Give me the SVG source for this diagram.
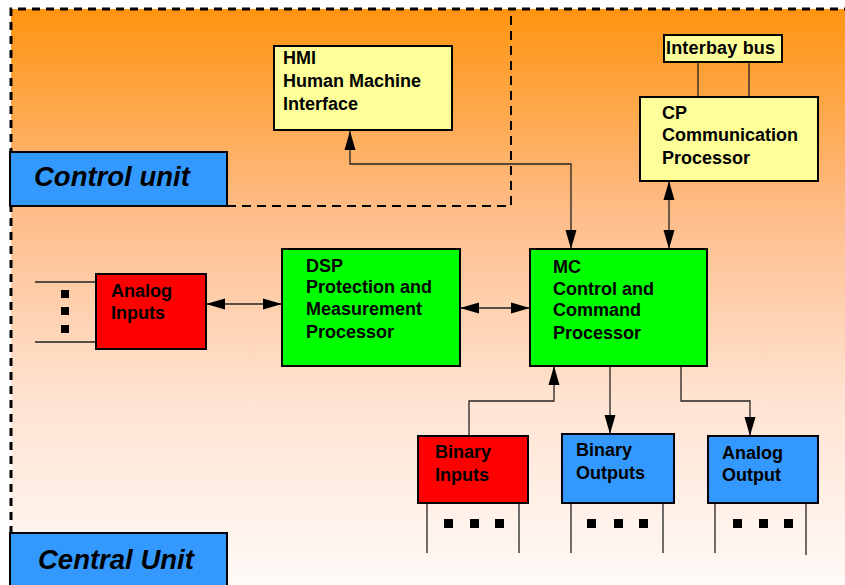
<svg xmlns="http://www.w3.org/2000/svg" width="845" height="585" viewBox="0 0 845 585">
<defs>
<linearGradient id="bg" x1="0" y1="0" x2="0" y2="1">
<stop offset="0" stop-color="#FF9410"/>
<stop offset="0.35" stop-color="#FEBD8A"/>
<stop offset="0.65" stop-color="#FFE2D0"/>
<stop offset="1" stop-color="#FFFCFA"/>
</linearGradient>
<marker id="ah" viewBox="0 0 10 10" refX="10" refY="5" markerWidth="19" markerHeight="19" markerUnits="userSpaceOnUse" orient="auto-start-reverse">
<path d="M0,2.1 L10,5 L0,7.9 z" fill="#000"/>
</marker>
</defs>
<style>
.box{stroke:#000;stroke-width:2}
.yel{fill:#FFFF99}
.red{fill:#FF0000}
.grn{fill:#00FF00}
.blu{fill:#3399FF}
.t{font-family:"Liberation Sans",Arial,sans-serif;font-weight:bold;font-size:18px;fill:#000}
.big{font-family:"Liberation Sans",Arial,sans-serif;font-weight:bold;font-style:italic;font-size:27.5px;fill:#000}
.ln{fill:none;stroke:#222;stroke-width:1.3}
.dot{fill:#000}
</style>
<rect x="0" y="0" width="845" height="585" fill="#fff"/>
<rect x="11" y="9" width="850" height="590" fill="url(#bg)"/>
<path d="M11,590 L11,9 L850,9" fill="none" stroke="#000" stroke-width="3" stroke-dasharray="8,6"/>
<path d="M227,206 L511,206 L511,11" fill="none" stroke="#000" stroke-width="2" stroke-dasharray="9,6"/>

<g id="connectors">
<path class="ln" d="M571,249 L571,164 L350,164 L350,131" marker-start="url(#ah)" marker-end="url(#ah)"/>
<path class="ln" d="M669,181 L669,249" marker-start="url(#ah)" marker-end="url(#ah)"/>
<path class="ln" d="M698,62 L698,97"/>
<path class="ln" d="M749,62 L749,97"/>
<path class="ln" d="M206,304 L282,304" marker-start="url(#ah)" marker-end="url(#ah)"/>
<path class="ln" d="M460,308 L530,308" marker-start="url(#ah)" marker-end="url(#ah)"/>
<path class="ln" d="M35,282 L96,282 M35,342 L96,342"/>
<path class="ln" d="M469,436 L469,401 L554,401 L554,366" marker-end="url(#ah)"/>
<path class="ln" d="M610,366 L610,434" marker-end="url(#ah)"/>
<path class="ln" d="M681,366 L681,401 L750,401 L750,436" marker-end="url(#ah)"/>
<path class="ln" d="M427,503 L427,553 M519,503 L519,553 M571,503 L571,553 M663,503 L663,553 M715,503 L715,553 M806,503 L806,555"/>
</g>

<g id="control-unit">
<rect class="box blu" x="10" y="152" width="217" height="54"/>
<text class="big" x="34" y="186">Control unit</text>
</g>
<g id="central-unit">
<rect class="box blu" x="10" y="533" width="217" height="60"/>
<text class="big" x="38" y="569">Central Unit</text>
</g>

<g id="hmi">
<rect class="box yel" x="274" y="46" width="178" height="84"/>
<text class="t" x="283" y="64">HMI</text>
<text class="t" x="283" y="87">Human Machine</text>
<text class="t" x="283" y="110">Interface</text>
</g>

<g id="interbay">
<rect class="box yel" x="664" y="35" width="118" height="27"/>
<text class="t" x="666" y="54" textLength="109">Interbay bus</text>
</g>

<g id="cp">
<rect class="box yel" x="640" y="97" width="178" height="84"/>
<text class="t" x="662" y="119">CP</text>
<text class="t" x="662" y="141">Communication</text>
<text class="t" x="662" y="164">Processor</text>
</g>

<g id="analog-inputs">
<rect class="box red" x="96" y="274" width="110" height="75"/>
<text class="t" x="111" y="297">Analog</text>
<text class="t" x="111" y="319">Inputs</text>
<rect class="dot" x="61" y="290" width="8" height="8"/>
<rect class="dot" x="61" y="307" width="8" height="8"/>
<rect class="dot" x="61" y="325" width="8" height="8"/>
</g>

<g id="dsp">
<rect class="box grn" x="282" y="249" width="178" height="117"/>
<text class="t" x="306" y="272">DSP</text>
<text class="t" x="306" y="293">Protection and</text>
<text class="t" x="306" y="315">Measurement</text>
<text class="t" x="306" y="338">Processor</text>
</g>

<g id="mc">
<rect class="box grn" x="530" y="249" width="177" height="117"/>
<text class="t" x="553" y="273">MC</text>
<text class="t" x="553" y="295">Control and</text>
<text class="t" x="553" y="316">Command</text>
<text class="t" x="553" y="339">Processor</text>
</g>

<g id="binary-inputs">
<rect class="box red" x="418" y="436" width="110" height="67"/>
<text class="t" x="435" y="458">Binary</text>
<text class="t" x="435" y="481">Inputs</text>
<rect class="dot" x="444" y="519" width="9" height="9"/>
<rect class="dot" x="470" y="519" width="9" height="9"/>
<rect class="dot" x="495" y="519" width="9" height="9"/>
</g>

<g id="binary-outputs">
<rect class="box blu" x="562" y="434" width="112" height="69"/>
<text class="t" x="576" y="456">Binary</text>
<text class="t" x="576" y="479">Outputs</text>
<rect class="dot" x="587" y="519" width="9" height="9"/>
<rect class="dot" x="614" y="519" width="9" height="9"/>
<rect class="dot" x="639" y="519" width="9" height="9"/>
</g>

<g id="analog-output">
<rect class="box blu" x="708" y="436" width="110" height="67"/>
<text class="t" x="722" y="459">Analog</text>
<text class="t" x="722" y="481">Output</text>
<rect class="dot" x="733" y="519" width="9" height="9"/>
<rect class="dot" x="759" y="519" width="9" height="9"/>
<rect class="dot" x="784" y="519" width="9" height="9"/>
</g>
</svg>
